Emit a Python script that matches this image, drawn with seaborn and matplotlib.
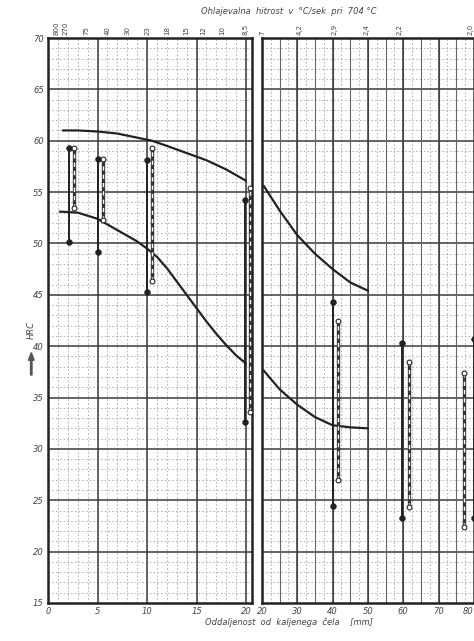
import numpy as np
import pandas as pd
import matplotlib
matplotlib.use("Agg")
import matplotlib.pyplot as plt
import seaborn as sns

# Band curves (HRC vs distance from quenched end, mm)
upper_left_x = [1.5, 3, 5, 7, 9, 10.5, 12, 14, 16, 18, 20]
upper_left_y = [61.0, 61.0, 60.9, 60.7, 60.3, 60.0, 59.5, 58.8, 58.1, 57.2, 56.1]
lower_left_x = [1.2, 3, 5, 7, 9, 10, 11, 12, 13, 14, 15, 16, 17, 18, 19, 20]
lower_left_y = [53.1, 53.0, 52.4, 51.3, 50.2, 49.5, 48.7, 47.6, 46.3, 45.0,
                43.7, 42.4, 41.2, 40.1, 39.1, 38.3]
upper_right_x = [20.5, 25, 30, 35, 40, 45, 50]
upper_right_y = [55.6, 53.2, 50.8, 49.0, 47.5, 46.2, 45.4]
lower_right_x = [20.3, 25, 30, 35, 40, 45, 50]
lower_right_y = [37.7, 35.8, 34.3, 33.1, 32.3, 32.1, 32.0]

# Measured ranges: solid bars (filled dots) and dashed bars
solid_x = [2.1, 5.0, 10.0, 19.9, 40.0, 59.7, 80.0]
solid_top = [59.3, 58.2, 58.1, 54.2, 44.3, 40.3, 40.7]
solid_bot = [50.1, 49.2, 45.3, 32.6, 24.4, 23.3, 23.3]
dashed_x = [2.6, 5.6, 10.5, 20.4, 41.4, 61.7, 77.2]
dashed_top = [59.3, 58.2, 59.3, 55.4, 42.5, 38.5, 37.4]
dashed_bot = [53.5, 52.3, 46.3, 33.6, 27.0, 24.3, 22.4]

# Cooling rate labels on top axis (°C/sek at 704 °C)
rate_pos_left = [0.9, 1.8, 3.9, 6.0, 8.0, 10.0, 12.0, 14.0, 15.7, 17.6, 19.9]
rate_lab_left = ["800", "270", "75", "40", "30", "23", "18", "15", "12", "10", "8,5"]
rate_pos_right = [20.0, 30.7, 40.6, 49.6, 59.0, 79.0]
rate_lab_right = ["7", "4,2", "2,9", "2,4", "2,2", "2,0"]

sns.set_style("white")
plt.rcParams["font.family"] = ["DejaVu Sans"]

fig = plt.figure(figsize=(4.74, 6.41), dpi=100)
ax1 = fig.add_axes([48 / 474, 38 / 641, 204 / 474, 565 / 641])
ax2 = fig.add_axes([262 / 474, 38 / 641, 213 / 474, 565 / 641])

ink = "#222222"
grid_major = "#3a3a3a"
grid_minor = "#a8a8a8"


def grid(ax, xmaj, xmid, xmin_, x0, x1):
    ax.set_ylim(15, 70)
    ax.set_xlim(x0, x1)
    for y in range(16, 70):
        if y % 5:
            ax.axhline(y, color=grid_minor, lw=0.6, ls=(0, (2, 2.5)), zorder=0)
    for y in range(20, 70, 5):
        ax.axhline(y, color=grid_major, lw=1.1, zorder=1)
    for x in np.arange(x0, x1 + 0.01, xmin_):
        ax.axvline(x, color=grid_minor, lw=0.6, ls=(0, (2, 2.5)), zorder=0)
    if xmid:
        for x in np.arange(x0, x1 + 0.01, xmid):
            ax.axvline(x, color="#666666", lw=0.8, zorder=1)
    for x in np.arange(x0, x1 + 0.01, xmaj):
        ax.axvline(x, color=grid_major, lw=1.1, zorder=1)
    for s in ax.spines.values():
        s.set_color(ink)
        s.set_linewidth(1.8)
    ax.tick_params(length=0, labelsize=6, colors="#444444", pad=3)


grid(ax1, 5, None, 1, 0, 20.6)
grid(ax2, 10, 5, 2.5, 20, 80.3)


def curve(ax, xs, ys):
    df = pd.DataFrame({"x": xs, "y": ys})
    sns.lineplot(data=df, x="x", y="y", ax=ax, color=ink, lw=1.6, zorder=4)


curve(ax1, upper_left_x, upper_left_y)
curve(ax1, lower_left_x, lower_left_y)
curve(ax2, upper_right_x, upper_right_y)
curve(ax2, lower_right_x, lower_right_y)

bars = pd.DataFrame({"x": solid_x, "top": solid_top, "bot": solid_bot})
dbars = pd.DataFrame({"x": dashed_x, "top": dashed_top, "bot": dashed_bot})
for ax, sel in [(ax1, lambda d: d[d.x <= 21]), (ax2, lambda d: d[d.x > 21])]:
    b = sel(bars)
    ax.vlines(b.x, b.bot, b.top, color=ink, lw=1.4, zorder=5)
    ends = pd.DataFrame({"x": list(b.x) * 2, "y": list(b.top) + list(b.bot)})
    sns.scatterplot(data=ends, x="x", y="y", ax=ax, color=ink, s=18,
                    edgecolor=ink, zorder=6, clip_on=False)
    d = sel(dbars)
    ax.vlines(d.x, d.bot, d.top, color="#333333", lw=2.4, zorder=5)
    ax.vlines(d.x, d.bot, d.top, color="white", lw=1.0, ls=(0, (3, 3)), zorder=5)
    dends = pd.DataFrame({"x": list(d.x) * 2, "y": list(d.top) + list(d.bot)})
    sns.scatterplot(data=dends, x="x", y="y", ax=ax, color="white", s=12,
                    edgecolor=ink, linewidth=0.8, zorder=6)
    ax.set_xlabel("")
    ax.set_ylabel("")

ax1.set_yticks(range(15, 71, 5))
ax1.set_yticklabels([str(v) for v in range(15, 71, 5)], style="italic")
ax2.set_yticks([])
ax1.set_xticks([0, 5, 10, 15, 20])
ax1.set_xticklabels(["0", "5", "10", "15", "20"], style="italic")
ax2.set_xticks([20, 30, 40, 50, 60, 70, 80])
ax2.set_xticklabels(["20", "30", "40", "50", "60", "70", "80"], style="italic")
ax2.get_xticklabels()[-1].set_horizontalalignment("right")

for ax, pos, lab in [(ax1, rate_pos_left, rate_lab_left), (ax2, rate_pos_right, rate_lab_right)]:
    top = ax.secondary_xaxis("top")
    top.set_xticks(pos)
    top.set_xticklabels(lab, rotation=90, fontsize=5, color="#444444")
    top.tick_params(length=0, pad=2)
    top.spines["top"].set_visible(False)

fig.text(0.61, 0.982, "Ohlajevalna  hitrost  v  °C/sek  pri  704 °C",
         ha="center", va="center", fontsize=6, style="italic", color="#444444")
fig.text(0.61, 0.030, "Oddaljenost  od  kaljenega  čela    [mm]",
         ha="center", va="center", fontsize=6, style="italic", color="#444444")
fig.text(0.066, 0.485, "HRC", rotation=90, ha="center", va="center",
         fontsize=6, style="italic", color="#444444")
fig.patches.append(plt.matplotlib.patches.FancyArrow(
    0.066, 0.415, 0, 0.035, width=0.003, head_width=0.012, head_length=0.012,
    transform=fig.transFigure, color="#555555", length_includes_head=True))

fig.savefig("out.png", dpi=100, facecolor="white")
